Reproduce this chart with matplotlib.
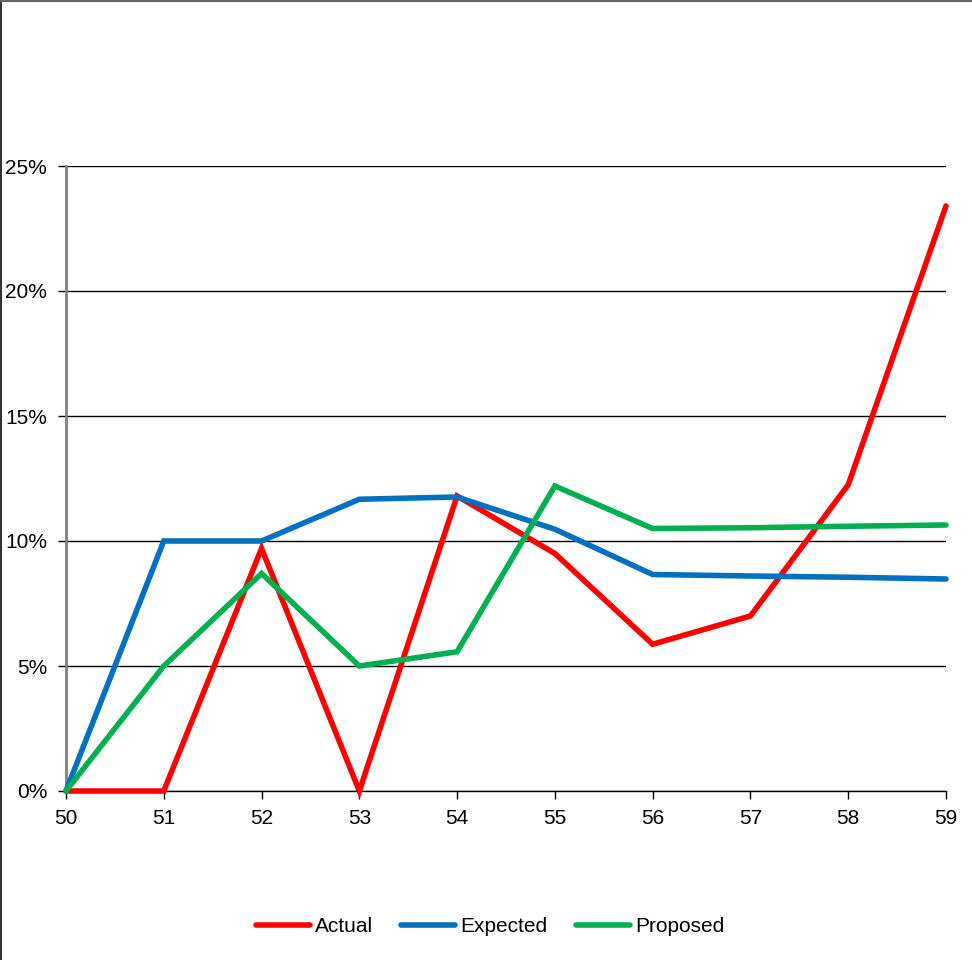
import matplotlib
matplotlib.use("Agg")
import matplotlib.pyplot as plt
from matplotlib.lines import Line2D
from matplotlib.ticker import FuncFormatter

plt.rcParams["font.family"] = ["Liberation Sans", "DejaVu Sans"]

ages = [50, 51, 52, 53, 54, 55, 56, 57, 58, 59]
actual = [0.0, 0.0, 9.7, 0.0, 11.8, 9.5, 5.87, 7.0, 12.25, 23.4]
expected = [0.0, 10.0, 10.0, 11.67, 11.76, 10.47, 8.66, 8.6, 8.55, 8.48]
proposed = [0.0, 5.0, 8.7, 5.0, 5.57, 12.2, 10.5, 10.53, 10.59, 10.64]

series = [
    ("Actual", actual, "#FF0000"),
    ("Expected", expected, "#0070C0"),
    ("Proposed", proposed, "#00B050"),
]

fig = plt.figure(figsize=(9.72, 9.6), dpi=100)
ax = fig.add_axes([66 / 972, 1 - 791 / 960, 880 / 972, 625 / 960])

for name, vals, col in series:
    ax.plot(ages, vals, color=col, lw=4.0, label=name,
            solid_capstyle="round", solid_joinstyle="miter", clip_on=False, zorder=3)

ax.set_xlim(50, 59)
ax.set_ylim(0, 25)
ax.set_xticks(ages)
ax.set_yticks([0, 5, 10, 15, 20, 25])
ax.yaxis.set_major_formatter(FuncFormatter(lambda v, p: f"{v:.0f}%"))
ax.grid(axis="y", color="black", lw=1.0, zorder=1)
ax.set_axisbelow(True)

for s in ("top", "right"):
    ax.spines[s].set_visible(False)
ax.spines["left"].set_color("#808080")
ax.spines["left"].set_linewidth(2.0)
ax.spines["bottom"].set_color("black")
ax.spines["bottom"].set_linewidth(1.0)

ax.tick_params(axis="both", labelsize=15, colors="black", length=6, width=1.0, direction="out")
ax.tick_params(axis="x", pad=7)
ax.tick_params(axis="y", pad=7.5)

leg = fig.legend(loc="center", bbox_to_anchor=(0.5 + 4 / 972, 1 - 927 / 960), ncol=3, frameon=False,
                 fontsize=15, handlelength=2.6, handletextpad=0.25, columnspacing=1.35)

# chart-area border along the left and top edges
fig.add_artist(Line2D([0.001, 0.001], [0, 1], transform=fig.transFigure, color="#333333", lw=1.5))
fig.add_artist(Line2D([0, 1], [0.999, 0.999], transform=fig.transFigure, color="#666666", lw=1.5))

fig.savefig("out.png", dpi=100, facecolor="white")
